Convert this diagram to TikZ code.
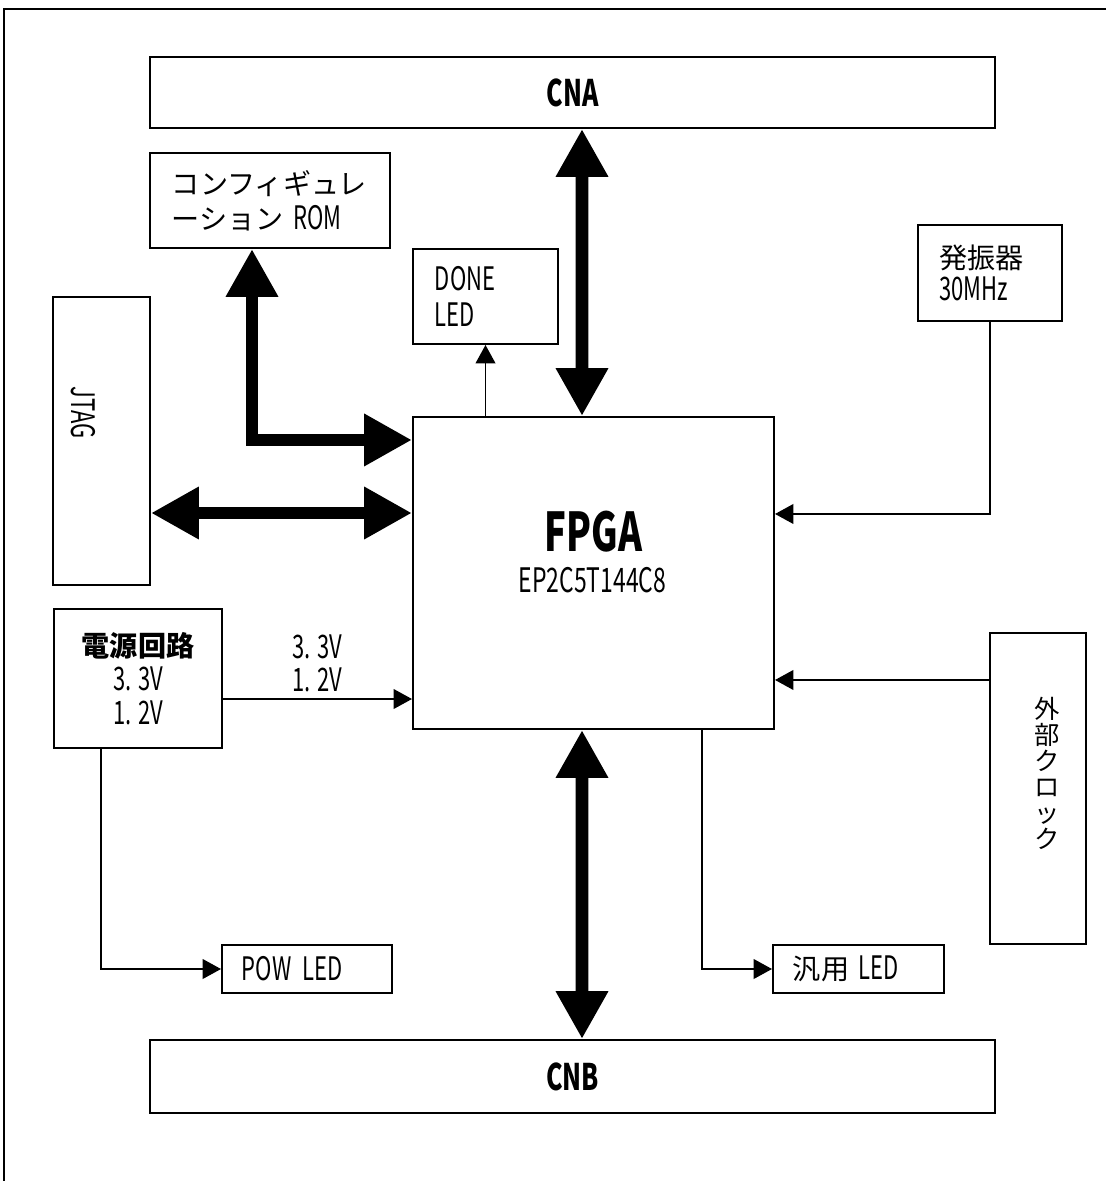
\documentclass[tikz,border=0pt]{standalone}
\usepackage{fontspec}
\setmainfont{Noto Sans CJK JP}
\newfontfamily\narrowfont{Noto Sans CJK JP}[FakeStretch=0.68]
\newcommand{\nar}[1]{{\narrowfont\fontsize{23}{25}\selectfont #1}}
\usetikzlibrary{calc,positioning,arrows.meta}

\begin{document}
\begin{tikzpicture}[
  x=0.025cm, y=-0.025cm,
  block/.style = {draw, line width=1.4pt, inner sep=0pt, align=left,
                  font=\fontsize{20}{25}\selectfont},
  bus/.style   = {line width=9pt,
                  {Triangle[length=34pt,width=35pt]}-{Triangle[length=34pt,width=35pt]}},
  sig/.style   = {line width=1pt, -{Triangle[length=13pt,width=14pt]}},
  note/.style  = {inner sep=0pt, align=center, font=\narrowfont\fontsize{23}{23.5}\selectfont}
]
  \useasboundingbox (0,0) rectangle (1106,1181);
  % outer frame (cut off at right and bottom)
  \draw[line width=1.4pt] (1106,9) -- (4,9) -- (4,1181);

  % Connectors top and bottom
  \node[block, minimum width=21.125cm, minimum height=1.775cm,
        font=\narrowfont\bfseries\fontsize{26}{28}\selectfont] (cna) at (572.5,92.5) {CNA};
  \node[block, minimum width=21.125cm, minimum height=1.825cm,
        font=\narrowfont\bfseries\fontsize{26}{28}\selectfont] (cnb) at (572.5,1076.5) {CNB};

  % Left side: config ROM, JTAG, power
  \node[block, minimum width=6cm, minimum height=2.375cm, text width=4.9cm] (rom) at (270,200.5)
    {コンフィギュレ\\ーション \nar{ROM}};
  \node[block, minimum width=2.425cm, minimum height=7.2cm] (jtag) at (101.5,441) {};
  \node[note, rotate=-90] (jtagtxt) at ($(jtag)+(-18.5,-28)$) {JTAG};
  \node[block, minimum width=4.2cm, minimum height=3.475cm, align=center,
        font=\fontsize{20}{24}\selectfont] (pwr) at (138,678.5)
    {\textbf{電源回路}\\\nar{3. 3V}\\\nar{1. 2V}};

  % Centre: FPGA and DONE LED
  \node[block, minimum width=9.025cm, minimum height=7.8cm] (fpga) at (593.5,573) {};
  \node[inner sep=0pt, font=\narrowfont\bfseries\fontsize{38}{38}\selectfont] (fpganame)
    at ($(fpga)+(0,-41)$) {FPGA};
  \node[note, font=\narrowfont\fontsize{24}{24}\selectfont] (fpgapart)
    at ($(fpga)+(-1,7)$) {EP2C5T144C8};
  \node[block, minimum width=3.625cm, minimum height=2.375cm, text width=2.525cm,
        font=\narrowfont\fontsize{23}{25.6}\selectfont] (done) at (485.5,296.5) {DONE\\LED};

  % Right side: oscillator, external clock
  \node[block, minimum width=3.6cm, minimum height=2.4cm, text width=2.55cm,
        font=\fontsize{20}{23}\selectfont] (osc) at (990,273) {発振器\\\nar{30MHz}};
  \node[block, minimum width=2.4cm, minimum height=7.775cm] (ext) at (1038,788.5) {};
  \node[note, font=\fontsize{18}{18.5}\selectfont] (exttxt) at ($(ext)+(9,-15.5)$)
    {外\\部\\ク\\ロ\\ッ\\ク};

  % LEDs
  \node[block, minimum width=4.25cm, minimum height=1.2cm, text width=3.25cm,
        font=\narrowfont\fontsize{23}{24}\selectfont] (powled) at (307,969) {POW LED};
  \node[block, minimum width=4.275cm, minimum height=1.2cm, text width=3.275cm] (gpled)
    at (858.5,969) {汎用 \nar{LED}};

  % Bus arrows
  \draw[bus] ($(cna.south)+(9.5,0)$) -- ($(fpga.north)+(-11.5,0)$);
  \draw[bus] ($(fpga.south)+(-11.5,0)$) -- ($(cnb.north)+(9.5,0)$);
  \draw[bus] ($(rom.south)+(-18,0)$) |- ($(fpga.north west)+(0,24)$);
  \draw[bus] ($(jtag.east)+(0,72)$) coordinate (j1) -- (j1 -| fpga.west);

  % Signal arrows
  \draw[sig] (fpga.north -| done.south) -- (done.south);
  \draw[sig] (osc.south) |- ($(fpga.north east)+(0,98)$);
  \draw[sig] ($(ext.north west)+(0,48)$) coordinate (e1) -- (e1 -| fpga.east);
  \draw[sig] ($(pwr.east)+(0,20.5)$) coordinate (p1) -- (p1 -| fpga.west);
  \node[note] (pwrlbl) at (317,663) {3. 3V\\1. 2V};
  \draw[sig] ($(pwr.south)+(-37,0)$) |- (powled.west);
  \draw[sig] ($(fpga.south)+(108.5,0)$) |- (gpled.west);

\end{tikzpicture}
\end{document}
